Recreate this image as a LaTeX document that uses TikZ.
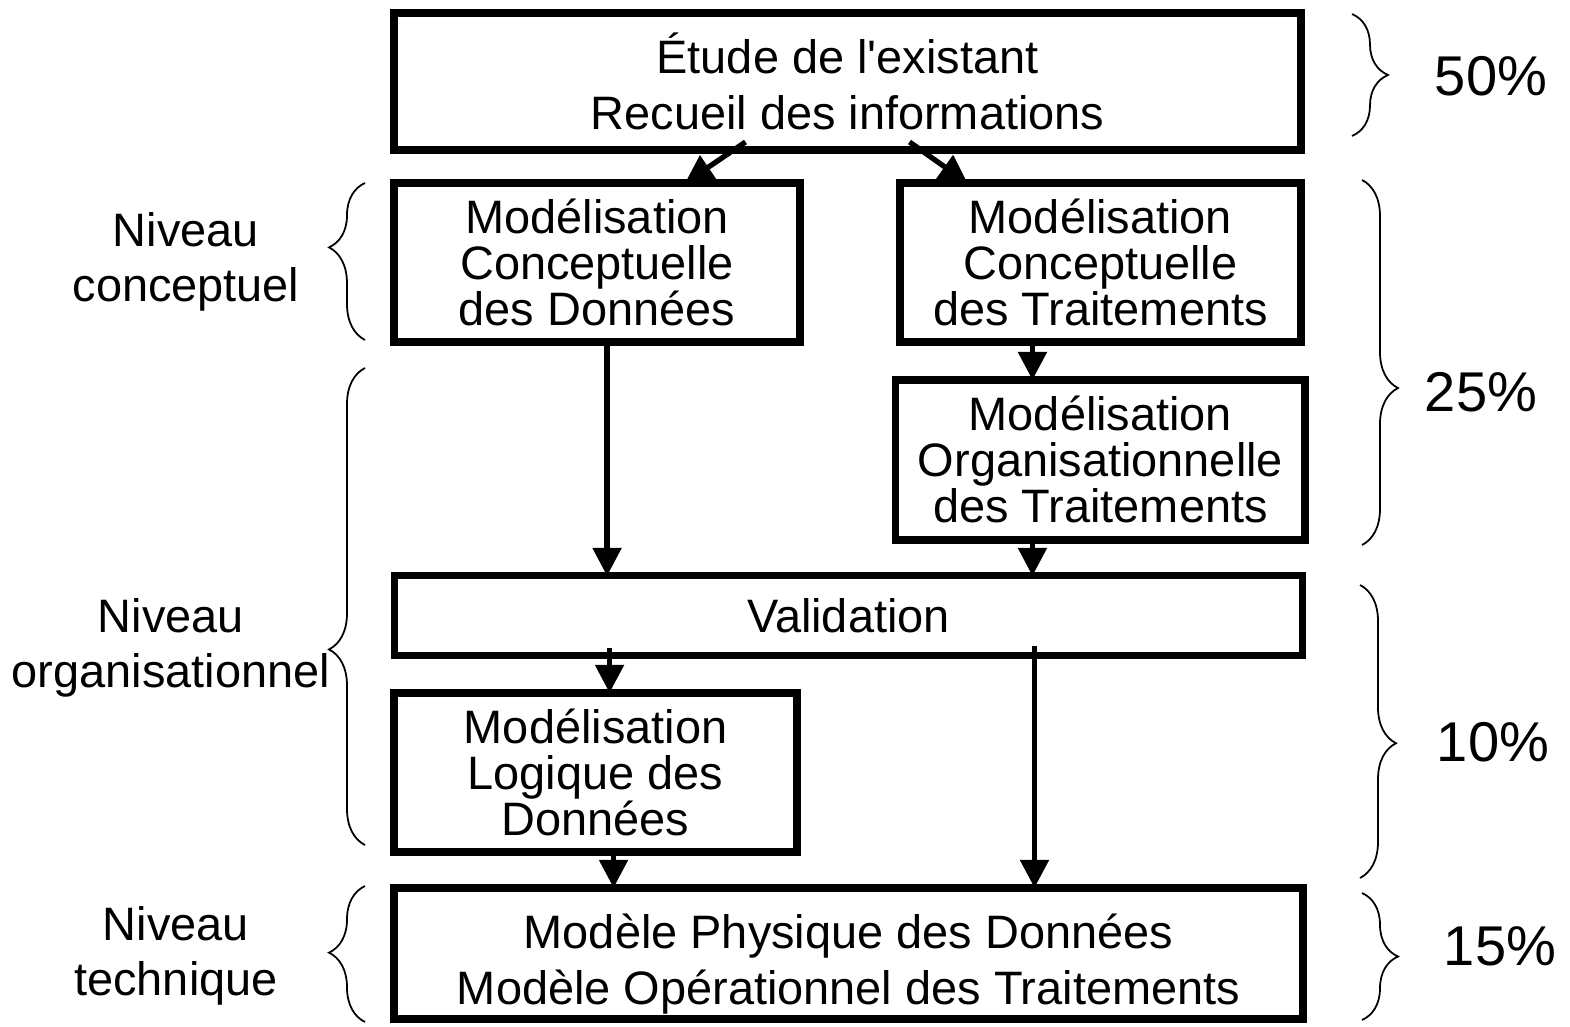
\documentclass[tikz,border=0pt]{standalone}
\usepackage{fontspec}
\setmainfont{Liberation Sans}
\usetikzlibrary{arrows.meta,positioning,calc,decorations.pathreplacing}

\begin{document}
\begin{tikzpicture}[
  x=0.02cm, y=-0.02cm,
  boite/.style={draw, line width=4.5pt, outer sep=0pt, inner sep=0pt, align=center, font=\fontsize{26.7}{26.2}\selectfont},
  large/.style={boite, font=\fontsize{26.7}{31.8}\selectfont},
  fleche/.style={-{Triangle[length=0.56cm,width=0.56cm]}, line width=3pt},
  accolade/.style={decorate, decoration={brace, amplitude=0.72cm, aspect=#1}, line width=1pt},
  accolade/.default=0.5,
  niveau/.style={align=center, font=\fontsize{26.7}{31}\selectfont},
  taux/.style={font=\fontsize{31.9}{36}\selectfont}
]
\useasboundingbox (0,0) rectangle (1570,1027);

\node[large, minimum width=18.14cm, minimum height=2.74cm] (etude) at (847.5,81.5) {Étude de l\textquotesingle existant\\Recueil des informations};
\node[boite, minimum width=8.12cm, minimum height=3.18cm, below=0.66cm of etude.south west, anchor=north west] (mcd) {Modélisation\\Conceptuelle\\des Données};
\node[boite, minimum width=8.02cm, minimum height=3.18cm, below=0.66cm of etude.south east, anchor=north east] (mct) {Modélisation\\Conceptuelle\\des Traitements};
\node[boite, minimum width=8.2cm, minimum height=3.2cm, below=0.76cm of mct] (mot) {Modélisation\\Organisationnelle\\des Traitements};
\node[boite, line width=4pt, minimum width=18.18cm, minimum height=1.6cm, below=4.68cm of mcd.south west, anchor=north west] (valid) {Validation};
\node[boite, minimum width=8.06cm, minimum height=3.18cm, below=0.74cm of valid.south west, anchor=north west] (mld) {Modélisation\\Logique des\\Données};
\node[large, minimum width=18.18cm, minimum height=2.62cm, below=0.72cm of mld.south west, anchor=north west] (mpd) {\rule{0pt}{32pt}Modèle Physique des Données\\Modèle Opérationnel des Traitements};

% niveaux et pourcentages
\node[niveau] (nconc) at (186,262) {Niveau\\conceptuel};
\node[niveau] (norga) at (171,648) {Niveau\\organisationnel};
\node[niveau] (ntech) at (176,956) {Niveau\\technique};
\node[taux] (t50) at (1491,76) {50\%};
\node[taux] (t25) at (1481,392) {25\%};
\node[taux] (t10) at (1493,742) {10\%};
\node[taux] (t15) at (1500,946) {15\%};

\draw[fleche] ($(etude.south)+(-102,-8)$) -- ($(mcd.north)+(88,0)$);
\draw[fleche] ($(etude.south)+(62,-8)$) -- ($(mct.north)+(-133,0)$);
\draw[fleche] ($(mcd.south)+(10,0)$) -- ($(mcd.south)+(10,234)$);
\draw[fleche] ($(mct.south)+(-68,0)$) -- ($(mot.north)+(-68,0)$);
\draw[fleche] ($(mot.south)+(-68,0)$) -- ($(mot.south)+(-68,36)$);
\draw[fleche] ($(mld.north)+(14,-45)$) -- ($(mld.north)+(14,0)$);
\draw[fleche] ($(valid.south)+(186,-10)$) -- ($(mpd.north)+(186,0)$);
\draw[fleche] ($(mld.south)+(18,0)$) -- ($(mld.south)+(18,36)$);

% accolades
\draw[accolade] (1352,14) -- (1352,136);
\draw[accolade=0.57] (1362,180) -- (1362,545);
\draw[accolade=0.54] (1360,585) -- (1360,878);
\draw[accolade] (1362,893) -- (1362,1020);
\draw[accolade=0.59] (365,340) -- (365,183);
\draw[accolade=0.41] (365,845) -- (365,368);
\draw[accolade=0.51] (365,1022) -- (365,886);
\end{tikzpicture}
\end{document}
